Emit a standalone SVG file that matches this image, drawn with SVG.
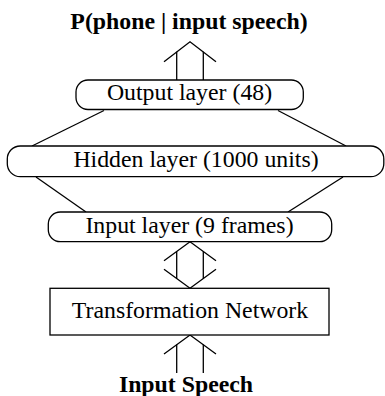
<svg xmlns="http://www.w3.org/2000/svg" width="385" height="396" viewBox="0 0 385 396">
<style>
.box{fill:#fff;stroke:#000;stroke-width:1.3}
.ln{fill:none;stroke:#000;stroke-width:1.3}
.t{font-family:"Liberation Serif","Times New Roman",serif;font-size:23.8px;fill:#000;text-anchor:middle}
.b{font-weight:bold}
</style>
<rect width="385" height="396" fill="#fff"/>
<g id="connectors">
<line class="ln" x1="104" y1="110.5" x2="32" y2="146"/>
<line class="ln" x1="278" y1="110.5" x2="346" y2="146"/>
<line class="ln" x1="36" y1="177" x2="86" y2="212"/>
<line class="ln" x1="343" y1="177" x2="288" y2="212"/>
<g id="arrow-out">
<polyline class="ln" points="164,61.7 190,41.7 216,61.7"/>
<line class="ln" x1="176.7" y1="51.7" x2="176.7" y2="80"/>
<line class="ln" x1="203.3" y1="51.7" x2="203.3" y2="80"/>
</g>
<g id="arrow-mid">
<polyline class="ln" points="164,260.7 190,241.7 216,260.7"/>
<polyline class="ln" points="164,269.3 190,288.3 216,269.3"/>
<line class="ln" x1="176.7" y1="251.5" x2="176.7" y2="278.5"/>
<line class="ln" x1="203.3" y1="251.5" x2="203.3" y2="278.5"/>
</g>
<g id="arrow-in">
<polyline class="ln" points="164,354 190,335 216,354"/>
<line class="ln" x1="176.7" y1="344.5" x2="176.7" y2="373"/>
<line class="ln" x1="203.3" y1="344.5" x2="203.3" y2="373"/>
</g>
</g>
<g id="title"><text class="t b" x="189" y="28.5">P(phone | input speech)</text></g>
<g id="output-layer">
<rect class="box" x="76" y="80" width="227.3" height="29.5" rx="12" ry="12"/>
<text class="t" x="189.5" y="100">Output layer (48)</text>
</g>
<g id="hidden-layer">
<rect class="box" x="7.3" y="146" width="376.5" height="30.7" rx="13" ry="13"/>
<text class="t" x="196" y="166.7">Hidden layer (1000 units)</text>
</g>
<g id="input-layer">
<rect class="box" x="48.3" y="212" width="283.4" height="29.7" rx="12" ry="12"/>
<text class="t" x="189.5" y="233.3">Input layer (9 frames)</text>
</g>
<g id="transformation">
<rect class="box" x="50" y="288.3" width="279" height="46.7"/>
<text class="t" x="190" y="318.3">Transformation Network</text>
</g>
<g id="input-speech"><text class="t b" x="186" y="391.7">Input Speech</text></g>
</svg>
